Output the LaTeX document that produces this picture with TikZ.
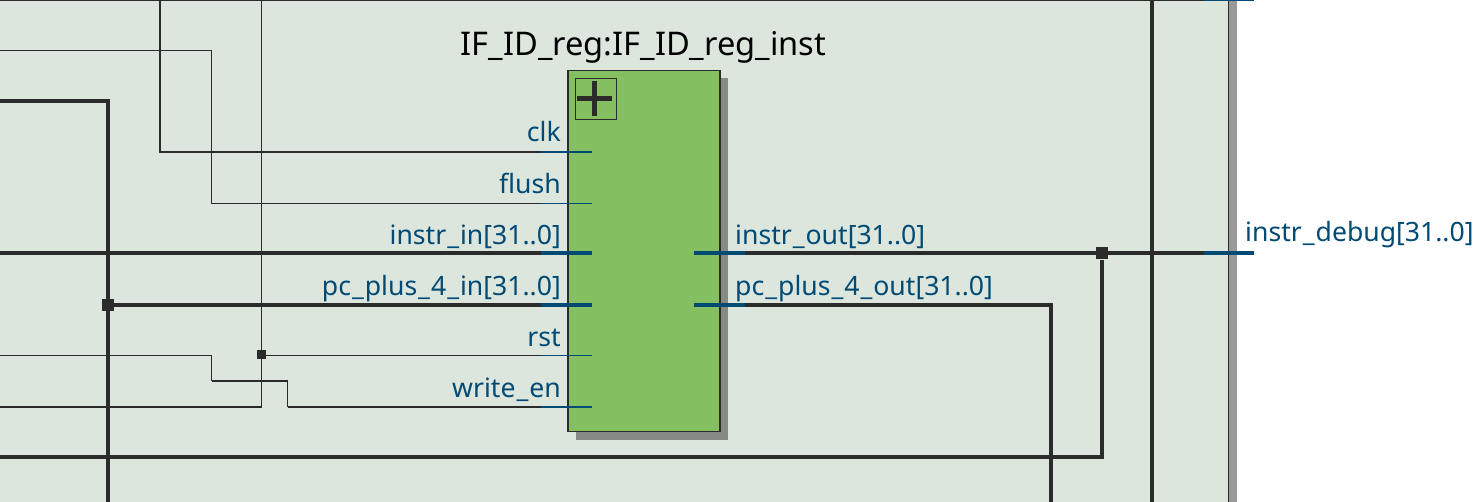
\documentclass[tikz,border=0pt]{standalone}
\usepackage{fontspec}
\setmainfont{Noto Sans}
\definecolor{bgc}{HTML}{DDE6DD}
\definecolor{wirec}{HTML}{2B2B2B}
\definecolor{bluec}{HTML}{004A75}
\definecolor{blockc}{HTML}{84BF62}
\definecolor{shadowc}{HTML}{868A84}
\definecolor{edgec}{HTML}{999999}
\newcommand{\usc}{\kern1pt\_\kern1pt}
\tikzset{
  hairw/.style={draw=wirec,line width=0.8pt},
  thinw/.style={draw=wirec,line width=1.1pt},
  midw/.style={draw=wirec,line width=1.6pt},
  bus/.style={draw=wirec,line width=4pt},
  hairp/.style={draw=bluec,line width=0.8pt},
  thinp/.style={draw=bluec,line width=1.3pt},
  midp/.style={draw=bluec,line width=1.6pt},
  busp/.style={draw=bluec,line width=4pt},
  portl/.style={text=bluec,font=\fontsize{26.6}{32}\selectfont,inner sep=0pt},
  portw/.style={portl,anchor=base east},
  porte/.style={portl,anchor=base west},
  dotb/.style={fill=wirec,inner sep=0pt,minimum size=12pt},
  dots/.style={fill=wirec,inner sep=0pt,minimum size=9pt},
}
\begin{document}
\begin{tikzpicture}[x=1pt,y=-1pt]
\useasboundingbox (0,0) rectangle (1483,502);
% panel
\fill[bgc] (0,0) rectangle (1228,502);
\fill[edgec] (1229,0) rectangle (1237,502);
\draw[wirec,line width=1pt] (1228.5,0) -- (1228.5,502);
\draw[wirec,line width=1.5pt] (0,0.5) -- (1204,0.5);
\draw[bluec,line width=1.5pt] (1204,0.5) -- (1254,0.5);
% named points
\coordinate (t1) at (160,0); \coordinate (c1) at (160,152);
\coordinate (f0) at (0,50); \coordinate (f1) at (211.5,50); \coordinate (f2) at (211.5,203.5);
\coordinate (r0) at (0,355); \coordinate (r1) at (211.5,355); \coordinate (r2) at (211.5,381);
\coordinate (r3) at (287.5,381); \coordinate (r4) at (287.5,407);
\coordinate (v0) at (261.5,0); \coordinate (v1) at (261.5,407); \coordinate (v2) at (0,407);
\coordinate (b0) at (0,101); \coordinate (b1) at (108,101); \coordinate (b2) at (108,502);
\coordinate (i0) at (0,253.5);
\coordinate (o1) at (1051,305.5); \coordinate (o2) at (1051,502);
\coordinate (n0) at (0,457); \coordinate (n1) at (1102,457);
\coordinate (s0) at (1152,0); \coordinate (s1) at (1152,502);
% port stubs
\coordinate (pclka) at (541,152); \coordinate (pclk) at (592,152);
\coordinate (pfla) at (541,203.5); \coordinate (pfl) at (592,203.5);
\coordinate (pina) at (541,253.5); \coordinate (pin) at (592,253.5);
\coordinate (ppca) at (541,305.5); \coordinate (ppc) at (592,305.5);
\coordinate (prsa) at (541,355); \coordinate (prs) at (592,355);
\coordinate (pwea) at (541,407); \coordinate (pwe) at (592,407);
\coordinate (poa) at (745,253.5); \coordinate (po) at (694,253.5);
\coordinate (ppa) at (745,305.5); \coordinate (pp) at (694,305.5);
\coordinate (dba) at (1204,253.5); \coordinate (db) at (1254,253.5);
% junctions
\node[dotb] (j1) at (108,305.5) {};
\node[dotb] (j2) at (1102,253.5) {};
\node[dots] (j3) at (261.5,355) {};
% wires
\draw[thinw] (t1) -- (c1) -- (pclka);
\draw[hairw] (f0) -- (f1) -- (f2) -- (pfla);
\draw[hairw] (v0) -- (v1);
\draw[midw] (v1) -- (v2);
\draw[hairw] (r0) -- (r1) -- (r2);
\draw[midw] (r2) -- (r3);
\draw[hairw] (r3) -- (r4);
\draw[midw] (r4) -- (pwea);
\draw[hairw] (j3) -- (prsa);
\draw[bus] (b0) -- (b1) -- (b2);
\draw[bus] (i0) -- (pina);
\draw[bus] (j1) -- (ppca);
\draw[bus] (poa) -- (dba);
\draw[bus] (ppa) -- (o1) -- (o2);
\draw[bus] (n0) -- (n1) -- (j2);
\draw[bus] (s0) -- (s1);
% block
\fill[shadowc] (576,78) rectangle (728,440);
\node[draw=wirec,line width=1.6pt,fill=blockc,minimum width=152pt,minimum height=361pt,inner sep=0pt,outer sep=0pt,anchor=north west] (blk) at (568,70.5) {};
\node[draw=wirec,line width=1pt,minimum width=41pt,minimum height=41pt,inner sep=0pt,anchor=north west] (plus) at (574.5,78.5) {};
\draw[wirec,line width=5pt] (577,99) -- (612,99);
\draw[wirec,line width=5pt] (594.5,81) -- (594.5,116);
% port stubs drawn over
\draw[thinp] (pclka) -- (pclk);
\draw[hairp] (pfla) -- (pfl);
\draw[busp] (pina) -- (pin);
\draw[busp] (ppca) -- (ppc);
\draw[hairp] (prsa) -- (prs);
\draw[midp] (pwea) -- (pwe);
\draw[busp] (po) -- (poa);
\draw[busp] (pp) -- (ppa);
\draw[busp] (dba) -- (db);
% labels
\node[anchor=base,font=\fontsize{32.6}{38}\selectfont,text=black,inner sep=0pt] (title) at (643.5,55.5) {IF\_ID\_reg:IF\_ID\_reg\_inst};
\node[portw] (lclk) at (561,142) {clk};
\node[portw] (lfl) at (561,193.5) {flush};
\node[portw] (lin) at (561,244.5) {instr\usc in[31..0]};
\node[portw] (lpc) at (561,296) {pc\usc plus\usc 4\usc in[31..0]};
\node[portw] (lrs) at (561,346.5) {rst};
\node[portw] (lwe) at (561,397.5) {write\usc en};
\node[porte] (lio) at (735,244.5) {instr\usc out[31..0]};
\node[porte] (lpo) at (735,296) {pc\usc plus\usc 4\usc out[31..0]};
\node[porte] (ldb) at (1245,242) {instr\usc debug[31..0]};
\end{tikzpicture}
\end{document}
